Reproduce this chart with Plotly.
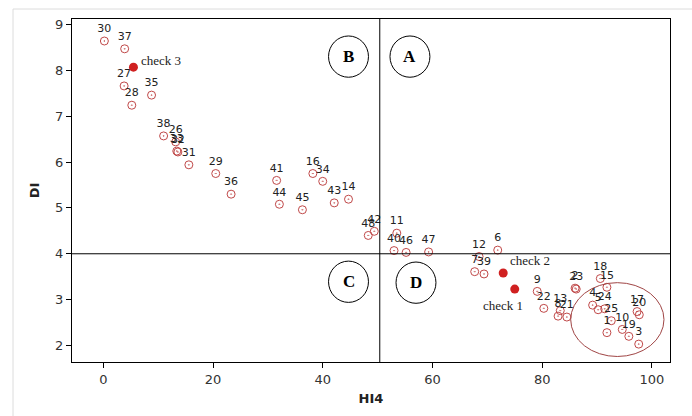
import plotly.graph_objects as go

# ---- data ----
ids = ["30", "37", "27", "35", "28", "38", "26", "33", "32", "31", "29", "36",
       "41", "44", "45", "16", "34", "43", "14", "42", "48", "11", "40", "46",
       "47", "12", "7", "39", "6", "9", "22", "2", "23", "13", "8", "21",
       "18", "15", "4", "5", "24", "25", "1", "10", "19", "3", "17", "20"]
hi4 = [0.2, 3.9, 3.8, 8.8, 5.2, 11.0, 13.2, 13.4, 13.6, 15.6, 20.5, 23.3,
       31.6, 32.1, 36.3, 38.2, 40.0, 42.1, 44.7, 49.4, 48.3, 53.5, 53.0, 55.2,
       59.3, 68.5, 67.7, 69.4, 71.9, 79.1, 80.3, 86.0, 86.2, 83.3, 82.9, 84.5,
       90.6, 91.8, 89.2, 90.2, 91.4, 92.6, 91.8, 94.6, 95.8, 97.6, 97.3, 97.7]
di = [8.64, 8.47, 7.66, 7.46, 7.24, 6.57, 6.44, 6.24, 6.22, 5.94, 5.75, 5.30,
      5.60, 5.08, 4.96, 5.75, 5.58, 5.11, 5.19, 4.49, 4.40, 4.45, 4.07, 4.03,
      4.04, 3.94, 3.61, 3.56, 4.08, 3.18, 2.81, 3.25, 3.23, 2.76, 2.64, 2.62,
      3.46, 3.27, 2.88, 2.78, 2.80, 2.54, 2.28, 2.35, 2.20, 2.03, 2.74, 2.67]

check_names = ["check 1", "check 2", "check 3"]
check_hi4 = [75.0, 72.9, 5.5]
check_di = [3.23, 3.58, 8.07]

x_ticks = [0, 20, 40, 60, 80, 100]
y_ticks = [2, 3, 4, 5, 6, 7, 8, 9]
x_cut = 50.4
y_cut = 4.0

quad_letters = ["A", "B", "C", "D"]
quad_x = [55.9, 44.7, 44.7, 57.0]
quad_y = [8.30, 8.30, 3.39, 3.37]

fig = go.Figure()

fig.add_trace(go.Scatter(
    x=hi4, y=di, mode="markers+text", text=ids,
    textposition="top center",
    textfont=dict(family="DejaVu Sans", size=11, color="#222"),
    marker=dict(symbol="circle-open-dot", size=8, color="#c04848",
                line=dict(width=1, color="#c04848")),
    showlegend=False, cliponaxis=False))

fig.add_trace(go.Scatter(
    x=check_hi4, y=check_di, mode="markers",
    marker=dict(symbol="circle", size=9, color="#d02020"),
    showlegend=False))

W, H = 692, 416
L, R, T, B = 72, 22, 19, 54
pw, ph = W - L - R, H - T - B

shapes = [
    dict(type="line", xref="x", yref="paper", x0=x_cut, x1=x_cut, y0=0, y1=1,
         line=dict(color="black", width=1)),
    dict(type="line", xref="paper", yref="y", x0=0, x1=1, y0=y_cut, y1=y_cut,
         line=dict(color="black", width=1)),
    dict(type="circle", xref="x", yref="y", x0=85.2, x1=102.2, y0=1.76, y1=3.37,
         line=dict(color="#a04545", width=1)),
    dict(type="line", xref="paper", yref="paper", x0=(13 - L) / pw, x1=(13 - L) / pw,
         y0=-B / ph, y1=(ph + T - 9) / ph, line=dict(color="#dcdcdc", width=1)),
    dict(type="line", xref="paper", yref="paper", x0=(13 - L) / pw, x1=(W - L) / pw,
         y0=(ph + T - 9) / ph, y1=(ph + T - 9) / ph, line=dict(color="#dcdcdc", width=1)),
]
rx, ry = 3.64, 0.45
for qx, qy in zip(quad_x, quad_y):
    shapes.append(dict(type="circle", xref="x", yref="y",
                       x0=qx - rx, x1=qx + rx, y0=qy - ry, y1=qy + ry,
                       line=dict(color="black", width=1)))

annotations = [dict(x=qx, y=qy, xref="x", yref="y", text=f"<b>{t}</b>",
                    showarrow=False,
                    font=dict(family="Liberation Serif", size=17, color="black"))
               for t, qx, qy in zip(quad_letters, quad_x, quad_y)]

# check labels: (xanchor, xshift, yshift) per label
check_label_pos = [("center", -12, -16), ("left", 5, 13), ("left", 6, 7)]
for name, cx, cy, (xa, xs, ys) in zip(check_names, check_hi4, check_di, check_label_pos):
    annotations.append(dict(x=cx, y=cy, xref="x", yref="y", text=name,
                            showarrow=False, xanchor=xa, xshift=xs, yshift=ys,
                            font=dict(family="Liberation Serif", size=13, color="#222")))

axis_common = dict(showline=True, mirror=True, linecolor="black", linewidth=1,
                   ticks="outside", ticklen=5, tickcolor="black",
                   showgrid=False, zeroline=False,
                   tickfont=dict(family="DejaVu Sans", size=13, color="#333"))

fig.update_layout(
    width=W, height=H,
    margin=dict(l=L, r=R, t=T, b=B),
    plot_bgcolor="white", paper_bgcolor="white",
    shapes=shapes, annotations=annotations,
    xaxis=dict(range=[-5.7, 103.3], tickvals=x_ticks,
               title=dict(text="<b>HI4</b>", standoff=8,
                          font=dict(family="DejaVu Sans", size=13, color="#222")),
               **axis_common),
    yaxis=dict(range=[1.64, 9.12], tickvals=y_ticks,
               title=dict(text="<b>DI</b>", standoff=12,
                          font=dict(family="DejaVu Sans", size=13, color="#222")),
               **axis_common),
)

fig.write_html(
    "out.html",
    config={"displayModeBar": False},
    post_script="document.body.style.margin='0';document.body.style.overflow='hidden';",
)
